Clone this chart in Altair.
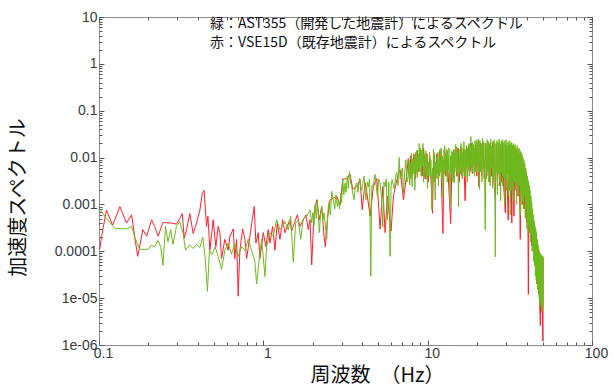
import json
import altair as alt
import pandas as pd

# ---------------- data (frequency Hz, acceleration spectrum) ----------------
red_low = [
    (0.101, 1.1e-4), (0.104, 2.2e-4), (0.111, 7.6e-4), (0.121, 3.6e-4), (0.134, 9.0e-4),
    (0.147, 4.0e-4), (0.158, 6.0e-4), (0.165, 2.0e-4), (0.172, 7.8e-5), (0.185, 2.9e-4),
    (0.195, 2.1e-4), (0.209, 4.7e-4), (0.218, 3.4e-4), (0.229, 2.1e-4), (0.240, 3.4e-4),
    (0.245, 4.1e-4), (0.276, 4.0e-4), (0.296, 3.8e-4), (0.310, 5.0e-4), (0.321, 6.4e-4),
    (0.330, 1.9e-4), (0.341, 2.9e-4), (0.357, 6.4e-4), (0.374, 2.4e-4), (0.392, 4.0e-4),
    (0.411, 7.6e-4), (0.425, 1.7e-3), (0.436, 2.0e-3), (0.451, 3.4e-4), (0.460, 5.6e-4),
    (0.473, 1.05e-4), (0.495, 4.7e-4), (0.514, 1.25e-4), (0.531, 3.4e-4), (0.544, 2.5e-4),
    (0.557, 7.0e-5), (0.583, 1.8e-4), (0.611, 1.05e-4), (0.626, 2.1e-4), (0.656, 3.0e-4),
    (0.671, 7.0e-5), (0.688, 1.8e-4), (0.703, 1.1e-5), (0.720, 1.05e-4), (0.748, 3.0e-4),
    (0.773, 1.8e-4), (0.791, 7.0e-5), (0.829, 2.1e-4), (0.856, 4.7e-4), (0.880, 9.0e-4),
    (0.901, 1.5e-4), (0.931, 2.5e-4), (0.953, 7.0e-5), (0.999, 2.5e-4), (1.037, 1.25e-4),
    (1.071, 2.9e-4), (1.097, 1.5e-4), (1.139, 3.4e-4), (1.177, 1.05e-4), (1.215, 4.0e-4),
    (1.262, 1.8e-4), (1.311, 4.7e-4), (1.354, 2.5e-4), (1.398, 3.4e-4), (1.452, 4.7e-4),
    (1.487, 2.7e-4), (1.558, 4.3e-4), (1.609, 6.0e-4), (1.671, 3.4e-4), (1.750, 4.7e-4),
    (1.818, 6.0e-4), (1.877, 2.9e-4),
]

red_mid = [
    (1.923, 4.7e-4), (1.970, 5.1e-5), (2.034, 6.5e-4), (2.113, 1.26e-3), (2.191, 4.7e-4),
    (2.266, 9.0e-4), (2.341, 2.1e-4), (2.384, 1.25e-4), (2.451, 4.7e-4), (2.546, 1.26e-3),
    (2.667, 1.35e-3), (2.797, 1.5e-3), (2.929, 9.7e-4), (3.042, 3.4e-3), (3.218, 3.6e-3),
    (3.371, 4.4e-3), (3.501, 2.1e-3), (3.704, 2.4e-3), (3.879, 3.4e-3), (3.996, 7.7e-4),
    (4.160, 2.9e-3), (4.297, 1.5e-3), (4.463, 5.6e-4), (4.674, 2.4e-3), (4.902, 3.6e-3),
    (5.134, 3.0e-4), (5.333, 2.4e-3), (5.508, 2.5e-4), (5.689, 1.5e-3), (5.991, 2.7e-4),
    (6.188, 1.5e-3), (6.493, 3.4e-3), (6.801, 5.5e-3), (7.124, 1.26e-3), (7.472, 4.7e-3),
]

red_high = [
    (7.62, 9.5e-3), (7.75, 3.0e-3), (7.90, 1.1e-2), (8.05, 4.0e-3), (8.25, 1.2e-2),
    (8.45, 3.5e-3), (8.65, 1.4e-2), (8.85, 5.0e-3), (9.05, 1.5e-2), (9.25, 4.0e-3),
    (9.45, 1.6e-2), (9.65, 3.5e-3), (9.90, 1.2e-2), (10.10, 3.0e-3), (10.30, 1.1e-2),
    (10.50, 3.0e-3), (10.70, 6.5e-4), (10.90, 1.3e-2), (11.10, 3.0e-3), (11.35, 1.2e-2),
    (11.60, 3.5e-3), (11.85, 1.4e-2), (12.10, 4.0e-3), (12.38, 2.4e-4), (12.60, 1.5e-2),
    (12.85, 4.0e-3), (13.10, 1.4e-2), (13.40, 3.0e-3), (13.80, 3.9e-4), (14.10, 1.3e-2),
    (14.40, 3.5e-3), (14.70, 1.5e-2), (15.00, 4.0e-3), (15.30, 1.6e-2), (15.60, 3.0e-3),
    (15.90, 1.7e-2), (16.20, 4.0e-3), (16.50, 1.5e-2), (16.90, 1.2e-3), (17.20, 1.6e-2),
    (17.50, 4.0e-3), (17.80, 1.8e-2), (18.10, 5.0e-3), (18.40, 2.0e-2), (18.70, 4.5e-3),
    (19.00, 1.8e-2), (19.30, 5.0e-3), (19.60, 2.0e-2), (19.90, 4.0e-3), (20.20, 1.9e-2),
    (20.50, 2.4e-3), (20.90, 2.0e-2), (21.30, 4.0e-3), (21.70, 2.2e-2), (22.10, 3.5e-3),
    (22.50, 2.0e-2), (22.90, 4.0e-3), (23.30, 2.1e-2), (23.70, 3.0e-3), (24.10, 2.0e-2),
    (24.50, 4.0e-3), (24.90, 2.1e-2), (25.30, 3.0e-3), (25.80, 1.4e-3), (26.20, 1.9e-2),
    (26.60, 3.0e-3), (27.00, 2.0e-2), (27.40, 2.5e-3), (27.80, 1.9e-2), (28.20, 3.0e-3),
    (28.60, 2.0e-2), (29.00, 2.5e-3), (29.70, 6.6e-4), (30.10, 1.8e-2), (30.50, 2.5e-3),
    (30.90, 4.7e-4), (31.30, 1.7e-2), (31.70, 2.0e-3), (32.10, 1.6e-2), (32.50, 4.0e-4),
    (32.90, 1.5e-2), (33.50, 5.6e-4), (34.00, 1.5e-2), (34.50, 2.0e-3), (35.00, 1.4e-2),
    (35.50, 1.5e-3), (36.00, 1.2e-2), (36.60, 1.8e-4), (37.10, 1.1e-2), (37.60, 1.0e-3),
    (38.20, 8.0e-3), (38.80, 8.0e-4), (39.40, 5.0e-3), (40.00, 4.0e-4), (40.60, 3.0e-3),
    (41.00, 1.2e-5), (41.40, 2.0e-3), (41.90, 2.5e-4), (42.40, 1.2e-3), (42.90, 1.3e-4),
    (43.30, 8.0e-4), (43.80, 1.0e-4), (44.30, 4.0e-4), (44.80, 6.0e-5), (45.20, 4.7e-5),
    (45.60, 2.5e-4), (46.10, 2.0e-5), (46.60, 1.5e-4), (47.10, 1.5e-5), (47.60, 1.0e-4),
    (48.00, 8.0e-6), (48.50, 2.6e-6), (48.90, 8.0e-5), (49.30, 5.0e-6), (49.70, 7.0e-5),
    (50.00, 3.0e-6), (50.30, 1.2e-6), (50.50, 7.0e-5),
]

green_low = [
    (0.101, 8.0e-4), (0.111, 5.0e-4), (0.125, 3.1e-4), (0.147, 3.0e-4), (0.158, 3.4e-4),
    (0.165, 2.0e-4), (0.177, 1.1e-4), (0.199, 1.1e-4), (0.209, 1.35e-4), (0.218, 1.25e-4),
    (0.229, 1.7e-4), (0.238, 1.2e-4), (0.245, 5.0e-5), (0.254, 3.4e-4), (0.263, 1.6e-4),
    (0.273, 2.9e-4), (0.282, 1.4e-4), (0.296, 3.4e-4), (0.310, 4.3e-4), (0.325, 2.4e-4),
    (0.336, 1.05e-4), (0.357, 1.35e-4), (0.374, 1.15e-4), (0.392, 1.4e-4), (0.411, 1.2e-4),
    (0.428, 2.0e-4), (0.443, 7.0e-5), (0.457, 1.4e-5), (0.470, 1.05e-4), (0.486, 8.5e-5),
    (0.509, 1.25e-4), (0.531, 7.8e-5), (0.557, 4.1e-5), (0.583, 1.05e-4), (0.611, 1.5e-4),
    (0.641, 8.6e-5), (0.671, 1.5e-4), (0.703, 7.8e-5), (0.738, 1.25e-4), (0.773, 1.05e-4),
    (0.809, 1.8e-4), (0.849, 1.05e-4), (0.889, 5.9e-5), (0.910, 2.0e-5), (0.944, 7.0e-5),
    (0.976, 1.8e-4), (1.023, 2.9e-5), (1.047, 1.25e-4), (1.097, 2.5e-4), (1.149, 2.1e-4),
    (1.205, 4.7e-4), (1.262, 2.9e-4), (1.311, 3.4e-4), (1.354, 4.3e-4), (1.419, 2.9e-4),
    (1.467, 5.6e-4), (1.521, 5.9e-5), (1.573, 4.0e-4), (1.632, 4.7e-4), (1.688, 1.8e-4),
    (1.750, 5.0e-4), (1.836, 5.6e-4), (1.905, 7.1e-4),
]

green_mid = [
    (1.923, 7.7e-4), (1.970, 4.0e-4), (1.997, 6.6e-4), (2.034, 3.5e-4), (2.063, 9.7e-4),
    (2.100, 5.0e-4), (2.131, 1.26e-3), (2.191, 2.5e-4), (2.230, 6.0e-4), (2.266, 9.0e-4),
    (2.300, 4.5e-4), (2.341, 6.6e-4), (2.431, 1.8e-4), (2.470, 7.0e-4), (2.510, 1.1e-3),
    (2.560, 6.0e-4), (2.608, 1.9e-3), (2.667, 1.26e-3), (2.720, 8.0e-4), (2.770, 1.6e-3),
    (2.820, 9.0e-4), (2.860, 1.26e-3), (2.910, 8.0e-4), (2.958, 1.75e-3), (3.000, 1.1e-3),
    (3.042, 3.6e-3), (3.090, 1.6e-3), (3.142, 2.9e-3), (3.190, 1.8e-3), (3.245, 4.0e-3),
    (3.290, 2.2e-3), (3.338, 5.0e-3), (3.400, 2.8e-3), (3.452, 2.4e-3), (3.510, 1.6e-3),
    (3.566, 1.26e-3), (3.630, 2.5e-3), (3.704, 2.9e-3), (3.770, 1.8e-3), (3.841, 3.6e-3),
    (3.900, 2.5e-3), (3.972, 2.0e-3), (4.040, 3.0e-3), (4.102, 4.0e-3), (4.160, 2.0e-3),
    (4.219, 1.26e-3), (4.290, 3.0e-3), (4.358, 2.4e-3), (4.430, 3.5e-3), (4.507, 2.9e-5),
    (4.570, 2.5e-3), (4.634, 2.4e-3), (4.700, 3.0e-3), (4.786, 4.4e-3), (4.860, 2.5e-3),
    (4.944, 1.5e-3), (5.040, 3.5e-3), (5.134, 2.9e-3), (5.230, 1.5e-3), (5.333, 3.3e-4),
    (5.420, 3.0e-3), (5.508, 2.4e-3), (5.600, 3.5e-3), (5.689, 4.7e-4), (5.800, 3.0e-3),
    (5.908, 7.8e-5), (5.990, 2.5e-3), (6.076, 3.4e-3), (6.180, 2.5e-3), (6.276, 2.1e-3),
    (6.380, 4.0e-3), (6.493, 4.8e-3), (6.600, 2.5e-3), (6.707, 1.0e-2), (6.800, 3.5e-3),
    (6.897, 4.0e-3), (7.010, 6.0e-3), (7.124, 1.75e-3), (7.250, 5.0e-3), (7.368, 9.0e-3),
    (7.480, 3.0e-3), (7.609, 4.0e-3),
]

green_high = [
    (7.70, 9.0e-3), (7.78, 2.6e-3), (7.83, 7.7e-3), (7.90, 3.5e-3), (7.97, 1.25e-2),
    (8.05, 2.4e-3), (8.13, 9.5e-3), (8.20, 4.5e-3), (8.28, 1.1e-2), (8.36, 2.0e-3),
    (8.45, 1.3e-2), (8.52, 5.0e-3), (8.60, 1.45e-2), (8.68, 3.8e-3), (8.76, 1.2e-2),
    (8.84, 6.0e-3), (8.88, 2.0e-2), (8.96, 5.0e-3), (9.05, 1.6e-2), (9.13, 4.0e-3),
    (9.22, 1.45e-2), (9.30, 6.5e-3), (9.35, 2.0e-2), (9.44, 3.0e-3), (9.52, 1.2e-2),
    (9.60, 4.0e-3), (9.66, 6.5e-3), (9.75, 1.4e-2), (9.83, 3.5e-3), (9.89, 1.05e-2),
    (9.97, 2.2e-3), (10.06, 8.0e-3), (10.15, 4.0e-3), (10.26, 1.3e-2), (10.36, 3.9e-3),
    (10.46, 9.0e-3), (10.55, 2.5e-3), (10.61, 7.7e-4), (10.70, 6.0e-3), (10.78, 3.0e-3),
    (10.85, 1.5e-2), (10.94, 4.0e-3), (11.03, 1.1e-2), (11.11, 1.26e-3), (11.20, 8.0e-3),
    (11.28, 3.5e-3), (11.38, 1.05e-2), (11.46, 4.5e-3), (11.55, 1.3e-2), (11.63, 2.5e-3),
    (11.72, 9.0e-3), (11.80, 4.0e-3), (11.90, 1.5e-2), (12.00, 5.0e-3), (12.10, 1.6e-2),
    (12.20, 3.5e-3), (12.30, 1.1e-2), (12.38, 1.4e-3), (12.48, 9.0e-3), (12.58, 4.5e-3),
    (12.70, 1.8e-2), (12.80, 5.5e-3), (12.90, 1.3e-2), (12.97, 4.0e-3), (13.06, 1.5e-2),
    (13.15, 3.0e-3), (13.25, 1.2e-2), (13.39, 5.5e-3), (13.48, 1.6e-2), (13.58, 3.5e-3),
    (13.71, 9.0e-4), (13.80, 1.1e-2), (13.90, 4.5e-3), (14.00, 1.4e-2), (14.08, 5.0e-3),
    (14.16, 1.25e-2), (14.26, 3.0e-3), (14.36, 1.5e-2), (14.50, 2.9e-3), (14.60, 1.3e-2),
    (14.70, 6.0e-3), (14.80, 1.9e-2), (14.92, 5.0e-3), (15.02, 1.7e-2), (15.12, 4.0e-3),
    (15.22, 1.4e-2), (15.32, 6.0e-3), (15.41, 9.0e-4), (15.52, 1.2e-2), (15.62, 5.0e-3),
    (15.72, 1.5e-2), (15.82, 4.5e-3), (15.94, 2.0e-2), (16.04, 6.0e-3), (16.15, 1.6e-2),
    (16.25, 3.5e-3), (16.35, 1.3e-2), (16.45, 5.0e-3), (16.52, 9.0e-3), (16.62, 2.2e-2),
    (16.72, 4.0e-3), (16.82, 1.5e-2), (16.92, 4.0e-3), (17.02, 1.4e-2), (17.12, 6.0e-3),
    (17.22, 1.8e-2), (17.33, 1.7e-2), (17.42, 3.0e-3), (17.52, 1.6e-2), (17.62, 5.5e-3),
    (17.73, 9.0e-3), (17.84, 2.0e-2), (17.95, 4.0e-3), (18.05, 1.9e-2), (18.15, 7.0e-3),
    (18.25, 2.2e-2), (18.33, 2.8e-2), (18.43, 6.0e-3), (18.53, 1.8e-2), (18.64, 5.0e-3),
    (18.75, 2.1e-2), (18.86, 4.7e-3), (18.97, 1.9e-2), (19.08, 7.0e-3), (19.20, 1.6e-2),
    (19.30, 4.0e-3), (19.40, 2.3e-2), (19.50, 2.0e-2), (19.60, 5.0e-3), (19.70, 1.8e-2),
    (19.80, 5.0e-3), (19.90, 2.4e-2), (20.00, 8.0e-3), (20.11, 9.0e-3), (20.22, 2.2e-2),
    (20.33, 5.0e-3), (20.44, 2.5e-2), (20.55, 7.0e-3), (20.68, 2.1e-3),
]

green_roll = [
    (20.80, 2.3e-2), (21.00, 5.0e-3), (21.20, 2.0e-2), (21.40, 3.0e-3), (21.60, 2.6e-2),
    (21.80, 6.0e-3), (22.00, 2.1e-2), (22.20, 4.0e-3), (22.40, 2.9e-4), (22.60, 1.9e-2),
    (22.80, 3.5e-3), (23.00, 2.4e-2), (23.20, 5.0e-3), (23.40, 2.2e-2), (23.60, 3.0e-3),
    (23.80, 2.0e-2), (24.00, 2.5e-3), (24.20, 2.5e-2), (24.40, 6.0e-3), (24.60, 1.8e-2),
    (24.80, 2.2e-3), (25.00, 2.2e-2), (25.20, 4.0e-3), (25.40, 2.4e-2), (25.60, 3.0e-3),
    (25.80, 7.6e-5), (26.00, 2.0e-2), (26.20, 5.0e-3), (26.40, 2.3e-2), (26.60, 1.6e-3),
    (26.80, 2.1e-2), (27.00, 4.5e-3), (27.20, 2.5e-2), (27.40, 3.0e-3), (27.60, 1.9e-2),
    (27.80, 1.2e-3), (28.00, 2.2e-2), (28.20, 5.0e-3), (28.40, 2.4e-2), (28.60, 2.5e-3),
    (28.80, 2.0e-2), (29.00, 4.0e-3), (29.20, 2.3e-2), (29.40, 1.0e-3), (29.60, 2.1e-2),
    (29.80, 3.5e-3), (30.00, 2.4e-2), (30.20, 2.0e-3), (30.40, 1.8e-2), (30.60, 4.5e-3),
    (30.80, 2.2e-2), (31.00, 1.5e-3), (31.20, 2.0e-2), (31.40, 3.0e-3), (31.60, 2.3e-2),
    (31.80, 6.0e-4), (32.00, 1.9e-2), (32.20, 4.0e-3), (32.40, 2.1e-2), (32.60, 2.0e-3),
    (32.80, 1.8e-2), (33.00, 3.5e-3), (33.20, 2.0e-2), (33.40, 1.2e-3), (33.60, 1.7e-2),
    (33.80, 3.0e-3), (34.00, 1.9e-2), (34.25, 2.5e-3), (34.50, 1.6e-2), (34.75, 1.0e-3),
    (35.00, 1.8e-2), (35.25, 3.0e-3), (35.50, 1.5e-2), (35.75, 1.5e-3), (36.00, 1.6e-2),
    (36.25, 2.5e-3), (36.50, 1.4e-2), (36.75, 6.0e-4), (37.00, 1.3e-2), (37.25, 2.0e-3),
    (37.50, 1.2e-2), (37.75, 1.2e-3), (38.00, 1.0e-2), (38.25, 8.0e-4), (38.50, 9.0e-3),
    (38.75, 1.5e-3), (39.00, 7.5e-3), (39.25, 5.0e-4), (39.50, 6.0e-3), (39.75, 1.0e-3),
    (40.00, 5.0e-3), (40.25, 3.0e-4), (40.50, 4.0e-3), (40.75, 6.0e-4), (41.00, 3.2e-3),
    (41.25, 2.5e-4), (41.50, 2.6e-3), (41.75, 3.5e-4), (42.00, 2.0e-3), (42.25, 1.6e-4),
    (42.50, 1.5e-3), (42.75, 2.2e-4), (43.00, 1.1e-3), (43.25, 1.0e-4), (43.50, 8.0e-4),
    (43.75, 1.2e-4), (44.00, 6.0e-4), (44.25, 6.0e-5), (44.50, 4.5e-4), (44.75, 5.0e-5),
    (45.00, 3.5e-4), (45.25, 3.0e-5), (45.50, 3.0e-4), (45.75, 2.5e-5), (46.00, 2.5e-4),
    (46.25, 2.0e-5), (46.50, 1.8e-4), (46.75, 1.5e-5), (47.00, 1.4e-4), (47.25, 1.2e-5),
    (47.50, 1.1e-4), (47.75, 1.0e-5), (48.00, 9.5e-5), (48.25, 8.0e-6), (48.50, 9.0e-5),
    (48.75, 7.0e-6), (49.00, 8.5e-5), (49.25, 6.0e-6), (49.50, 8.0e-5), (49.75, 5.0e-6),
    (50.00, 8.0e-5), (50.25, 6.0e-6), (50.50, 7.8e-5),
]

x_label_values = [0.1, 1, 10, 100]
x_label_texts = ["0.1", "1", "10", "100"]
y_label_values = [1e-6, 1e-5, 1e-4, 1e-3, 1e-2, 1e-1, 1, 10]
y_label_texts = ["1e-06", "1e-05", "0.0001", "0.001", "0.01", "0.1", "1", "10"]

legend_lines = [
    "緑：AST355（開発した地震計）によるスペクトル",
    "赤：VSE15D（既存地震計）によるスペクトル",
]
x_title = "周波数　（Hz）"
y_title = "加速度スペクトル"

GREEN = "#6cbb1c"
RED = "#ff1f2e"
FRAME = "#8c8c8c"
TICK = "#555555"
LABEL = "#3a3a3a"

W, H = 493, 328


def to_frame(parts, name):
    rows = [{"f": f, "a": a, "s": name} for part in parts for (f, a) in part]
    return pd.DataFrame(rows)


df_red = to_frame([red_low, red_mid, red_high], "VSE15D")
df_green = to_frame([green_low, green_mid, green_high, green_roll], "AST355")

x_scale = alt.Scale(type="log", domain=[0.1, 100])
y_scale = alt.Scale(type="log", domain=[1e-6, 10])

x_ticks = [k * 10.0 ** e for e in range(-1, 2) for k in range(1, 10)] + [100.0]
y_ticks = [k * 10.0 ** e for e in range(-6, 1) for k in range(1, 10)] + [10.0]

is_major = "abs(log(datum.value)/LN10 - round(log(datum.value)/LN10)) < 0.001"
tick_size = {"condition": {"test": is_major, "value": 5}, "value": 3}

x_label_expr = json.dumps(x_label_texts) + "[round(log(datum.value)/LN10)+1]"
y_label_expr = json.dumps(y_label_texts) + "[round(log(datum.value)/LN10)+6]"

x_main_axis = alt.Axis(
    values=x_label_values, labelExpr=x_label_expr, ticks=False, tickSize=0,
    domain=False, grid=False, labelFont="Liberation Sans", labelFontSize=14,
    labelColor=LABEL, labelPadding=1, labelFlush=False, labelOffset=4,
    title=x_title, titleFont="Noto Sans CJK JP", titleFontSize=20,
    titleFontWeight="normal", titleColor="#111111", titleX=278, titleY=20,
    titleAlign="center", titleBaseline="top",
)
y_main_axis = alt.Axis(
    values=y_label_values, labelExpr=y_label_expr, ticks=False, tickSize=0,
    domain=False, grid=False, labelFont="Liberation Sans", labelFontSize=14,
    labelColor=LABEL, labelPadding=2, labelFlush=False,
    title=y_title, titleFont="Noto Sans CJK JP", titleFontSize=20,
    titleFontWeight="normal", titleColor="#111111", titleAngle=270,
    titleX=-81, titleY=180, titleAlign="center", titleBaseline="middle",
)


def tick_axis(orient, offset, values):
    return alt.Axis(
        orient=orient, offset=offset, values=values, labels=False, domain=False,
        grid=False, title="", ticks=True, tickSize=tick_size, tickColor=TICK,
        tickWidth=1,
    )


red_line = alt.Chart(df_red).mark_line(color=RED, strokeWidth=1).encode(
    x=alt.X("f:Q", scale=x_scale, axis=x_main_axis),
    y=alt.Y("a:Q", scale=y_scale, axis=y_main_axis),
)

green_line = alt.Chart(df_green).mark_line(color=GREEN, strokeWidth=1).encode(
    x=alt.X("f:Q", scale=x_scale, axis=tick_axis("top", -H, x_ticks)),
    y=alt.Y("a:Q", scale=y_scale, axis=tick_axis("right", -W, y_ticks)),
)

tick_layer = alt.Chart(df_red).mark_line(strokeOpacity=0).encode(
    x=alt.X("f:Q", scale=x_scale, axis=tick_axis("bottom", -H, x_ticks)),
    y=alt.Y("a:Q", scale=y_scale, axis=tick_axis("left", -W, y_ticks)),
)

text_layers = [
    alt.Chart(pd.DataFrame({"t": [line]})).mark_text(
        align="left", baseline="middle", font="Noto Sans CJK JP",
        fontSize=14, color="#111111",
    ).encode(x=alt.value(111), y=alt.value(ypos), text="t:N")
    for line, ypos in zip(legend_lines, [7, 26])
]

chart = alt.layer(red_line, green_line, tick_layer, *text_layers).resolve_axis(
    x="independent", y="independent"
).properties(
    width=W, height=H,
    autosize=alt.AutoSizeParams(type="none"),
    padding={"left": 99, "top": 17, "right": 22, "bottom": 41},
).configure_view(stroke=FRAME, strokeWidth=1)

chart.save("out.html", embed_options={"renderer": "svg", "actions": False})
